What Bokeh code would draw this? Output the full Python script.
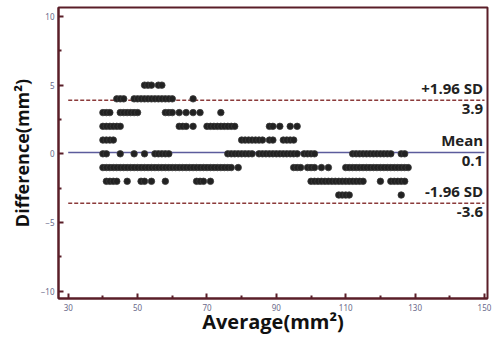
from bokeh.plotting import figure
from bokeh.models import Label, Range1d, FixedTicker
from bokeh.embed import file_html
from bokeh.resources import INLINE

# ---- data: Bland-Altman points (average, difference) read per difference row ----
avg_diff_5 = [52, 53, 54, 56, 57]
avg_diff_4 = [44, 45, 46, 49, 50, 51, 52, 53, 54, 55, 56, 57, 58, 59, 60, 66]
avg_diff_3 = [40, 41, 42, 45, 46, 47, 48, 49, 50, 58, 59, 60, 62, 64, 66, 68, 74]
avg_diff_2 = [40, 41, 42, 43, 44, 45, 62, 63, 64, 66, 70, 71, 72, 73, 74, 75, 76,
              77, 78, 88, 89, 91, 94, 96]
avg_diff_1 = [40, 41, 42, 43, 80, 81, 82, 83, 84, 85, 86, 88, 89, 92, 93, 94, 95]
avg_diff_0 = [40, 41, 45, 49, 52, 55, 56, 57, 58, 59, 76, 77, 78, 79, 80, 81, 82,
              83, 85, 86, 87, 88, 89, 90, 91, 92, 93, 94, 95, 96, 98, 99, 100,
              101, 112, 113, 114, 115, 116, 117, 118, 119, 120, 121, 122, 123,
              126, 127]
avg_diff_m1 = [40, 41, 42, 43, 44, 45, 46, 47, 48, 49, 50, 51, 52, 53, 54, 55, 56,
               57, 58, 59, 60, 61, 62, 63, 64, 65, 66, 67, 68, 69, 70, 71, 72,
               73, 74, 75, 76, 77, 79, 95, 96, 97, 99, 100, 101, 103, 105, 110,
               111, 112, 113, 114, 115, 116, 117, 118, 119, 120, 121, 122, 123,
               124, 125, 126, 127, 128]
avg_diff_m2 = [41, 42, 43, 44, 47, 51, 52, 54, 58, 67, 68, 69, 71, 100, 101, 102,
               103, 104, 105, 106, 107, 108, 109, 110, 111, 112, 113, 114, 115,
               120, 123, 124, 125, 126, 127]
avg_diff_m3 = [108, 109, 110, 111, 126]

rows = {5: avg_diff_5, 4: avg_diff_4, 3: avg_diff_3, 2: avg_diff_2, 1: avg_diff_1,
        0: avg_diff_0, -1: avg_diff_m1, -2: avg_diff_m2, -3: avg_diff_m3}

mean_diff = 0.1
upper_loa = 3.9
lower_loa = -3.6
x_ticks = [30, 50, 70, 90, 110, 130, 150]
y_ticks = [-10, -5, 0, 5, 10]
x_title = "Average(mm²)"
y_title = "Difference(mm²)"

xs, ys = [], []
for d, arr in rows.items():
    xs.extend(arr)
    ys.extend([d] * len(arr))

MAROON = "#5a1e28"
p = figure(width=494, height=344, output_backend="svg", toolbar_location=None,
           x_range=Range1d(27.2, 150.87), y_range=Range1d(-10.53, 10.65),
           min_border_left=58, min_border_right=7, min_border_top=7,
           min_border_bottom=46, background_fill_color="white",
           border_fill_color="white")
p.grid.visible = False
p.outline_line_color = MAROON
p.outline_line_width = 2

for ax, ticks in ((p.xaxis[0], x_ticks), (p.yaxis[0], y_ticks)):
    ax.ticker = FixedTicker(ticks=ticks,
                            minor_ticks=[(a + b) / 2 for a, b in zip(ticks[:-1], ticks[1:])])
    ax.axis_line_color = MAROON
    ax.axis_line_width = 2
    ax.major_tick_line_color = MAROON
    ax.major_tick_line_width = 2
    ax.minor_tick_line_color = MAROON
    ax.minor_tick_line_width = 2
    ax.major_tick_in = 5
    ax.major_tick_out = 0
    ax.minor_tick_in = 3
    ax.minor_tick_out = 0
    ax.major_label_text_font = "Noto Sans"
    ax.major_label_text_font_size = "8px"
    ax.major_label_text_color = "#6a6a8a"
    ax.axis_label_text_font = "Open Sans"
    ax.axis_label_text_font_style = "bold"
    ax.axis_label_text_color = "#111111"
p.xaxis.major_label_standoff = 5
p.yaxis.major_label_standoff = 4
p.xaxis.axis_label = x_title
p.yaxis.axis_label = y_title
p.xaxis.axis_label_text_font_size = "20px"
p.yaxis.axis_label_text_font_size = "18px"
p.xaxis.axis_label_standoff = -6
p.yaxis.axis_label_standoff = 4

# reference lines
p.segment(x0=[x_ticks[0]], x1=[x_ticks[-1]], y0=[mean_diff], y1=[mean_diff],
          line_color="#5c5c9c", line_width=1.6)
p.segment(x0=[x_ticks[0]] * 2, x1=[x_ticks[-1]] * 2, y0=[upper_loa, lower_loa],
          y1=[upper_loa, lower_loa], line_color="#8b3a3a", line_width=1.6,
          line_dash="4 2")

p.scatter(xs, ys, size=6.5, fill_color="#222222", line_color="#3a3a3a",
          line_width=0.8)

lab = dict(text_font="Open Sans", text_font_style="bold", text_font_size="15px",
           text_color="#222222", text_align="right")
for yv, above, below in ((upper_loa, "+1.96 SD", "3.9"), (mean_diff, "Mean", "0.1"),
                         (lower_loa, "-1.96 SD", "-3.6")):
    p.add_layout(Label(x=149.6, y=yv, text=above, text_baseline="bottom",
                       y_offset=2, **lab))
    p.add_layout(Label(x=149.6, y=yv, text=below, text_baseline="top",
                       y_offset=-4, **lab))

open("out.html", "w").write(file_html(p, INLINE))
